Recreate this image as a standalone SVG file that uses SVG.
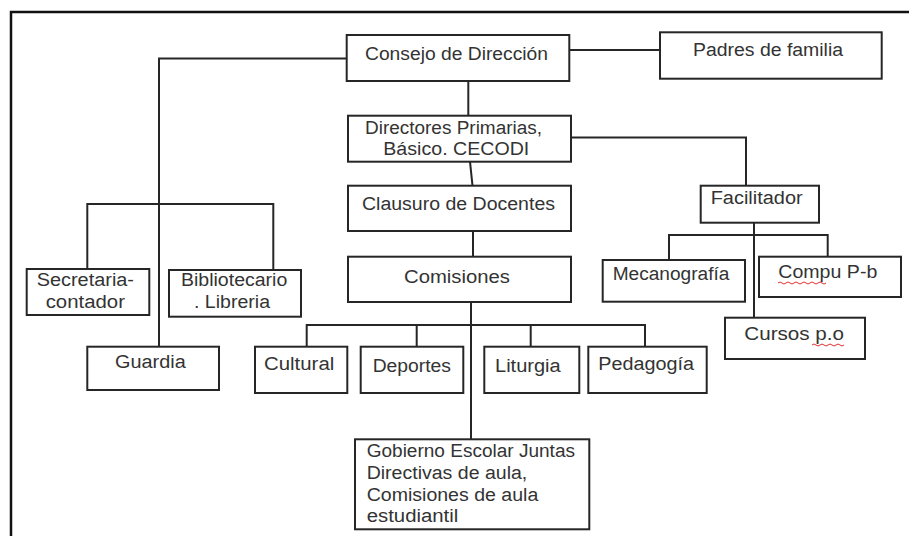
<svg xmlns="http://www.w3.org/2000/svg" width="909" height="536" viewBox="0 0 909 536">
<style>
.box{fill:#fff;stroke:#262626;stroke-width:2}
.con{fill:none;stroke:#262626;stroke-width:2}
.frame{fill:none;stroke:#111;stroke-width:2.5}
text{font-family:"Liberation Sans",Arial,sans-serif;font-size:18px;fill:#333}
.sq{fill:none;stroke:#e03030;stroke-width:1}
</style>
<rect x="0" y="0" width="909" height="536" fill="#fff"/>
<path class="frame" d="M11,536 V12 H909"/>
<g id="connectors">
<path class="con" d="M569,50 H660"/>
<path class="con" d="M346.7,58.5 H159 V346.7"/>
<path class="con" d="M468.3,81 V115.7"/>
<path class="con" d="M87.3,269 V204 H273.3 V270"/>
<path class="con" d="M571,137.5 H746 V185.7"/>
<path class="con" d="M470,161.7 L472.5,185.7"/>
<path class="con" d="M473,231 V256.7"/>
<path class="con" d="M471,302 V439.3"/>
<path class="con" d="M306.7,346.7 V325 H645 V346.7 M416.7,325 V346.7 M530.7,325 V346.7"/>
<path class="con" d="M669,260 V235 H827.7 V256.7"/>
<path class="con" d="M754,222.7 V317.7"/>
</g>
<g id="consejo"><rect class="box" x="346.7" y="35" width="222.6" height="46"/><text x="365" y="60" textLength="183" lengthAdjust="spacingAndGlyphs">Consejo de Dirección</text></g>
<g id="padres"><rect class="box" x="660" y="32.3" width="221.7" height="46.4"/><text x="693" y="56" textLength="150" lengthAdjust="spacingAndGlyphs">Padres de familia</text></g>
<g id="directores"><rect class="box" x="348" y="115.7" width="223" height="46"/><text x="365" y="134" textLength="177" lengthAdjust="spacingAndGlyphs">Directores Primarias,</text><text x="383.3" y="155" textLength="146" lengthAdjust="spacingAndGlyphs">Básico. CECODI</text></g>
<g id="clausuro"><rect class="box" x="348" y="185.7" width="223" height="45.3"/><text x="362" y="210" textLength="193" lengthAdjust="spacingAndGlyphs">Clausuro de Docentes</text></g>
<g id="comisiones"><rect class="box" x="348" y="256.7" width="223" height="45.3"/><text x="404" y="283" textLength="106" lengthAdjust="spacingAndGlyphs">Comisiones</text></g>
<g id="facilitador"><rect class="box" x="700.7" y="185.7" width="118.3" height="37"/><text x="710.7" y="204" textLength="92" lengthAdjust="spacingAndGlyphs">Facilitador</text></g>
<g id="mecanografia"><rect class="box" x="602.7" y="260" width="142.3" height="41.7"/><text x="612.7" y="280" textLength="116.7" lengthAdjust="spacingAndGlyphs">Mecanografía</text></g>
<g id="compu"><rect class="box" x="759" y="256.7" width="142" height="40.3"/><text x="778.3" y="278" textLength="99" lengthAdjust="spacingAndGlyphs">Compu P-b</text><path class="sq" d="M778,283 q2,-2 4,0 t4,0 t4,0 t4,0 t4,0 t4,0 t4,0 t4,0 t4,0 t4,0 t4,0 t4,0"/></g>
<g id="cursos"><rect class="box" x="725" y="317.7" width="140" height="41.3"/><text x="744.3" y="340" textLength="99.7" lengthAdjust="spacingAndGlyphs">Cursos p.o</text><path class="sq" d="M812,345 q2,-2 4,0 t4,0 t4,0 t4,0 t4,0 t4,0 t4,0 t4,0"/></g>
<g id="secretaria"><rect class="box" x="26.7" y="269" width="122.6" height="46"/><text x="36.7" y="286" textLength="97.3" lengthAdjust="spacingAndGlyphs">Secretaria-</text><text x="45.7" y="308" textLength="79.3" lengthAdjust="spacingAndGlyphs">contador</text></g>
<g id="bibliotecario"><rect class="box" x="169" y="270" width="132" height="46.7"/><text x="181" y="286" textLength="106.3" lengthAdjust="spacingAndGlyphs">Bibliotecario</text><text x="194" y="308" textLength="76" lengthAdjust="spacingAndGlyphs">. Libreria</text></g>
<g id="guardia"><rect class="box" x="87.3" y="346.7" width="131.7" height="43.3"/><text x="115" y="368" textLength="70.7" lengthAdjust="spacingAndGlyphs">Guardia</text></g>
<g id="cultural"><rect class="box" x="255" y="346.7" width="92.3" height="46.3"/><text x="264" y="370" textLength="70.3" lengthAdjust="spacingAndGlyphs">Cultural</text></g>
<g id="deportes"><rect class="box" x="360.7" y="346.7" width="102.6" height="46.3"/><text x="372.7" y="372" textLength="78.3" lengthAdjust="spacingAndGlyphs">Deportes</text></g>
<g id="liturgia"><rect class="box" x="484.3" y="346.7" width="95" height="46.3"/><text x="495" y="372" textLength="65.7" lengthAdjust="spacingAndGlyphs">Liturgia</text></g>
<g id="pedagogia"><rect class="box" x="588.3" y="346.7" width="118.4" height="46.3"/><text x="598.3" y="370" textLength="95.7" lengthAdjust="spacingAndGlyphs">Pedagogía</text></g>
<g id="gobierno"><rect class="box" x="355" y="439.3" width="234.3" height="90"/>
<text x="366.7" y="457" textLength="208.3" lengthAdjust="spacingAndGlyphs">Gobierno Escolar Juntas</text>
<text x="366.7" y="479" textLength="160.6" lengthAdjust="spacingAndGlyphs">Directivas de aula,</text>
<text x="366.7" y="501" textLength="171.6" lengthAdjust="spacingAndGlyphs">Comisiones de aula</text>
<text x="366.7" y="522" textLength="91.6" lengthAdjust="spacingAndGlyphs">estudiantil</text></g>
</svg>
